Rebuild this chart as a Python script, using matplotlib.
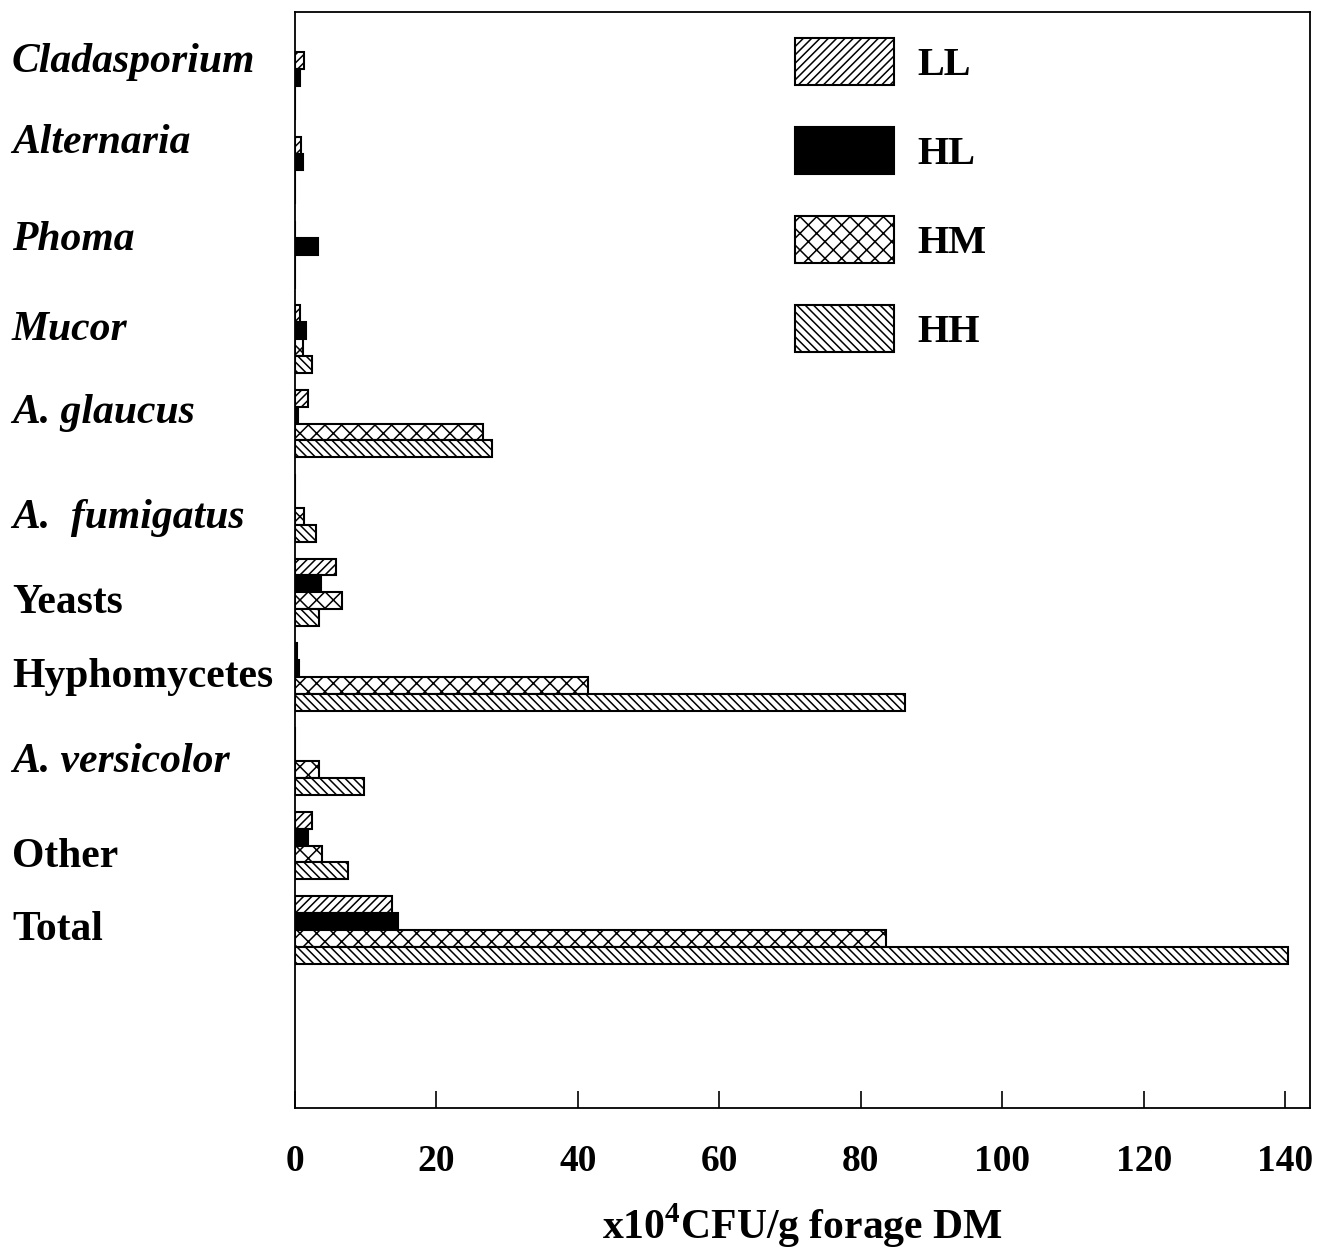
import numpy as np
import matplotlib
matplotlib.use("Agg")
from matplotlib import pyplot as plt
from matplotlib.patches import Patch
from matplotlib.transforms import blended_transform_factory

plt.rcParams['font.family'] = ['Liberation Serif', 'DejaVu Serif']
plt.rcParams['font.weight'] = 'bold'
plt.rcParams['mathtext.fontset'] = 'custom'
plt.rcParams['mathtext.rm'] = 'Liberation Serif:bold'
plt.rcParams['mathtext.bf'] = 'Liberation Serif:bold'
plt.rcParams['hatch.linewidth'] = 1.1

# fungal counts, x10^4 CFU/g forage DM
organisms = ["Cladasporium", "Alternaria", "Phoma", "Mucor", "A. glaucus",
             "A.  fumigatus", "Yeasts", "Hyphomycetes", "A. versicolor",
             "Other", "Total"]
italic = [True, True, True, True, True, True, False, False, True, False, False]

LL = [1.3, 0.85, 0.0, 0.7, 1.8, 0.0, 5.75, 0.3, 0.0, 2.45, 13.7]
HL = [0.7, 1.1, 3.3, 1.5, 0.45, 0.0, 3.7, 0.55, 0.0, 1.8, 14.5]
HM = [0.0, 0.0, 0.0, 1.1, 26.6, 1.3, 6.7, 41.4, 3.45, 3.75, 83.5]
HH = [0.0, 0.0, 0.0, 2.4, 27.9, 2.9, 3.45, 86.3, 9.75, 7.55, 140.4]

xticks = [0, 20, 40, 60, 80, 100, 120, 140]

# vertical placement of the row labels (in row units)
label_y = [-0.29, 0.67, 1.82, 2.89, 3.88, 5.12, 6.13, 7.0, 8.01, 9.13, 10.0]

fig = plt.figure(figsize=(13.18, 12.53), dpi=100)
ax = fig.add_axes([295 / 1318, 1 - 1108 / 1253, 1015 / 1318, 1096 / 1253])

y = np.arange(len(organisms))
h = 0.2
styles = [
    ("LL", LL, -0.3, dict(facecolor="white", hatch="////")),
    ("HL", HL, -0.1, dict(facecolor="black")),
    ("HM", HM, 0.1, dict(facecolor="white", hatch="xx")),
    ("HH", HH, 0.3, dict(facecolor="white", hatch="\\\\\\\\")),
]
handles = []
for name, vals, off, st in styles:
    ax.barh(y + off, vals, height=h, edgecolor="black", linewidth=1.5, **st)
    handles.append(Patch(edgecolor="black", linewidth=1.5, label=name, **st))

ax.set_xlim(0, 143.5)
ax.set_ylim(12.11, -0.877)
ax.set_xticks(xticks)
ax.set_xticklabels([str(t) for t in xticks], fontsize=27)
ax.tick_params(axis="x", direction="in", length=12, width=1.2, pad=26)
ax.set_yticks([])
for s in ax.spines.values():
    s.set_linewidth(1.3)

ax.set_xlabel(r"x10$^{\mathbf{4}}$CFU/g forage DM", fontsize=30,
              fontweight="bold", labelpad=16)

trans = blended_transform_factory(fig.transFigure, ax.transData)
for name, ly, it in zip(organisms, label_y, italic):
    ax.text(12 / 1318, ly, name, transform=trans, ha="left", va="center",
            fontsize=30, style="italic" if it else "normal")

ax.legend(handles=handles, loc="upper left",
          bbox_to_anchor=(0.4926, 0.976), frameon=False, fontsize=29,
          handlelength=2.45, handleheight=1.42, labelspacing=1.04,
          handletextpad=0.6, borderpad=0, borderaxespad=0)

fig.savefig("out.png", dpi=100)
